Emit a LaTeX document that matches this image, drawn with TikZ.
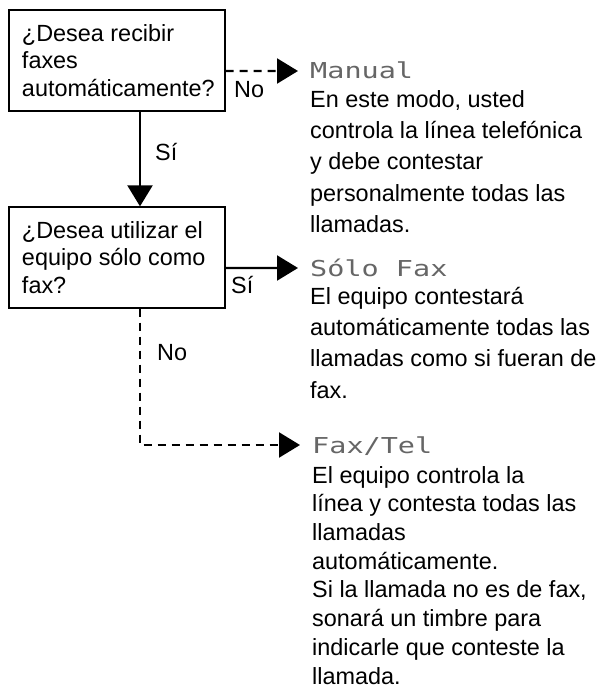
\documentclass[tikz,border=0pt]{standalone}
\usepackage{fontspec}
\setmainfont{Liberation Sans}
\newfontfamily\lcdfont[FakeStretch=1.3]{DejaVu Sans Mono}
\usetikzlibrary{arrows.meta,positioning}
\newcommand{\firstline}{\rule{0pt}{18bp}}

\begin{document}
\begin{tikzpicture}[
  x=1bp, y=-1bp,
  qbox/.style={rectangle, draw=black, line width=1.3bp, minimum width=216bp,
               minimum height=101bp, text width=190bp, inner xsep=13bp,
               inner ysep=0pt, align=flush left, font=\fontsize{23.5}{27.5}\selectfont},
  arr/.style={-{Triangle[length=21bp, width=25bp]}, line width=2.2bp},
  toarr/.style={arr, shorten >=12bp},
  dasharr/.style={toarr, dash pattern=on 8bp off 6bp},
  title/.style={font=\lcdfont\fontsize{22}{22}\selectfont, text=black!60,
                inner sep=0pt, text height=16bp, text depth=0pt, anchor=west},
  desc/.style={font=\fontsize{23.5}{31.5}\selectfont, align=flush left,
               inner sep=0pt, anchor=north west},
  lbl/.style={font=\fontsize{23.5}{24}\selectfont, inner sep=0pt, anchor=base west}
]
\useasboundingbox (0,0) rectangle (603,690);

\node[qbox] (recibir) at (117,60.5) {¿Desea recibir\\faxes\\automáticamente?};
\node[qbox] (solofax) at (117,257.5) {¿Desea utilizar el\\equipo sólo como\\fax?};

\node[title] (manual) at (310,71) {Manual};
\node[title] (solo) at (310,268) {Sólo Fax};
\node[title] (faxtel) at (312,445) {Fax/Tel};

\node[desc] (manualtxt) at ([yshift=-10bp]manual.base west)
  {\firstline En este modo, usted\\controla la línea telefónica\\y debe contestar\\personalmente todas las\\llamadas.};
\node[desc] (solotxt) at ([yshift=-10bp]solo.base west)
  {\firstline El equipo contestará\\automáticamente todas las\\llamadas como si fueran de\\fax.};
\node[desc, font=\fontsize{23.5}{28.8}\selectfont] (faxteltxt) at ([yshift=-12bp]faxtel.base west)
  {\firstline El equipo controla la\\línea y contesta todas las\\llamadas\\automáticamente.\\Si la llamada no es de fax,\\sonará un timbre para\\indicarle que conteste la\\llamada.};

\draw[arr] ([xshift=23bp]recibir.south) -- ([xshift=23bp]solofax.north);
\draw[dasharr] ([yshift=-10.5bp]recibir.east) -- (manual);
\draw[toarr] ([yshift=-10.5bp]solofax.east) -- (solo);
\draw[dasharr] ([xshift=23bp]solofax.south) |- (faxtel);

\node[lbl] (no1) at (234,98) {No};
\node[lbl] (si1) at (155,160) {Sí};
\node[lbl] (si2) at (231,293) {Sí};
\node[lbl] (no2) at (157,360) {No};
\end{tikzpicture}
\end{document}
